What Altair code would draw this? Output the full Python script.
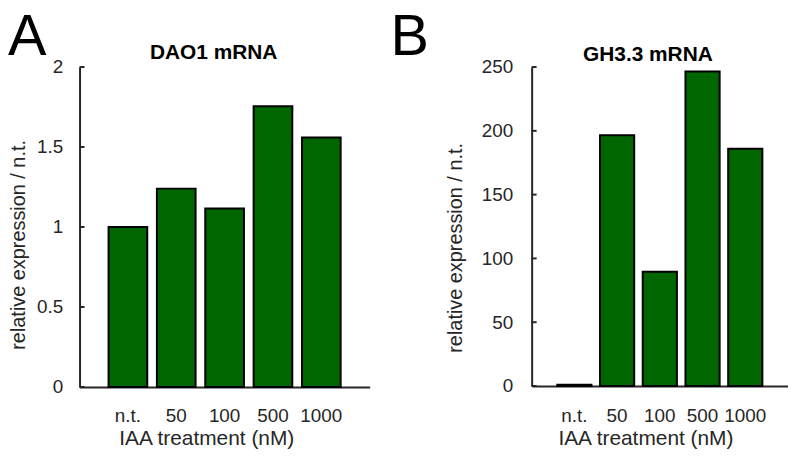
import altair as alt
import pandas as pd

# ---- data ----
treatments = ["n.t.", "50", "100", "500", "1000"]
dao1_values = [1.0, 1.24, 1.115, 1.755, 1.56]
gh33_values = [1.0, 196.5, 89.5, 246.5, 186.0]
dao1_ticks = [0, 0.5, 1, 1.5, 2]
gh33_ticks = [0, 50, 100, 150, 200, 250]

FONT = "Liberation Sans"
AX = "#262626"
GREEN = "#006600"


def panel(values, ticks, ymax, letter, title, w, h, lab_pad_y, lab_pad_x,
          letter_x, letter_y, title_x, title_y, ytitle_x, ytitle_y, xtitle_x, xtitle_y):
    df = pd.DataFrame({"treatment": treatments, "value": values})
    tdf = pd.DataFrame({"t": ticks})
    x = alt.X("treatment:N", sort=treatments,
              scale=alt.Scale(paddingInner=0.2, paddingOuter=0.6),
              axis=alt.Axis(title=None, ticks=False, tickSize=0, labelAngle=0,
                            labelPadding=lab_pad_x, domainColor=AX, domainWidth=2,
                            labelFontSize=19, labelColor=AX, labelFont=FONT))
    y = alt.Y("value:Q", scale=alt.Scale(domain=[0, ymax], nice=False, zero=True),
              axis=alt.Axis(title=None, values=ticks, format="~r", ticks=False, tickSize=0,
                            grid=False, labelPadding=lab_pad_y, domainColor=AX, domainWidth=2,
                            labelFontSize=19, labelColor=AX, labelFont=FONT))
    bars = alt.Chart(df).mark_bar(color=GREEN, stroke="black", strokeWidth=2).encode(x=x, y=y)
    tick_marks = alt.Chart(tdf).mark_rule(color=AX, strokeWidth=2).encode(
        y=alt.Y("t:Q"), x=alt.value(0), x2=alt.value(5))

    def txt(s, **kw):
        d = pd.DataFrame({"label": [s]})
        pos = {k: kw.pop(k) for k in ("xx", "yy")}
        return alt.Chart(d).mark_text(font=FONT, **kw).encode(
            text="label:N", x=alt.value(pos["xx"]), y=alt.value(pos["yy"]))

    lt = txt(letter, xx=letter_x, yy=letter_y, fontSize=58, align="left",
             baseline="alphabetic", color="black")
    tt = txt(title, xx=title_x, yy=title_y, fontSize=21, fontWeight="bold",
             align="center", baseline="alphabetic", color="black")
    yt = txt("relative expression / n.t.", xx=ytitle_x, yy=ytitle_y, fontSize=20,
             angle=270, align="center", baseline="alphabetic", color=AX)
    xt = txt("IAA treatment (nM)", xx=xtitle_x, yy=xtitle_y, fontSize=21,
             align="center", baseline="alphabetic", color=AX)
    return alt.layer(bars, tick_marks, lt, tt, yt, xt).properties(width=w, height=h)


pA = panel(dao1_values, dao1_ticks, 2, "A", "DAO1 mRNA", 292, 322, 17, 20,
           -72, -12, 135, -8.5, -55, 179, 128, 380)
pB = panel(gh33_values, gh33_ticks, 250, "B", "GH3.3 mRNA", 258, 321, 19, 21,
           -142, -12, 117, -6.5, -70, 182, 115, 380)

chart = alt.hconcat(pA, pB, spacing=21).properties(padding=0).configure_view(stroke=None)

chart.save("out.html", embed_options={"renderer": "svg", "actions": False})
